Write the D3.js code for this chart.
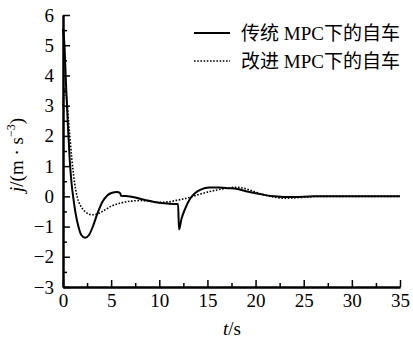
<!DOCTYPE html>
<html>
<head>
<meta charset="utf-8">
<script src="https://cdn.jsdelivr.net/npm/d3@7"></script>
<style>
  body { margin: 0; background: #fff; }
  .serif { font-family: "Liberation Serif", "Times New Roman", serif; }
  .legendText { font-family: "Liberation Serif", "Noto Sans CJK SC", serif; }
</style>
</head>
<body>
<div id="chart"></div>
<script>
// data
var seriesNames = ["传统 MPC下的自车", "改进 MPC下的自车"];

var tradT = [0, 0.15, 0.3, 0.5, 0.7, 0.9, 1.05, 1.3, 1.6, 1.9, 2.3, 2.7, 3.1, 3.6, 4.1, 4.6, 5.1, 5.6, 5.95, 6.02,
    6.5, 7.5, 8.5, 9.5, 10.5, 11.5, 11.95, 12.05, 12.3, 12.7, 13.2, 13.7, 14.3, 15.2, 16.2, 17.2, 18, 19, 20, 21, 22, 23, 24, 26, 35];
var tradJ = [5.55, 5.0, 3.8, 2.4, 1.2, 0.4, 0, -0.55, -1.0, -1.28, -1.37, -1.28, -1.0, -0.55, -0.18, 0.03, 0.12, 0.14, 0.1, 0.02,
    0.01, -0.04, -0.12, -0.19, -0.23, -0.25, -0.25, -1.1, -0.75, -0.4, -0.08, 0.1, 0.22, 0.29, 0.29, 0.27, 0.25, 0.17, 0.1, 0.04, 0.0, -0.02, -0.02, 0, 0];

var impT = [0, 0.15, 0.35, 0.6, 0.9, 1.2, 1.5, 1.9, 2.4, 3.0, 3.6, 4.3, 5, 6, 7, 8, 9, 10, 11, 12, 13, 14, 15, 16, 17, 18,
    19, 20, 21, 22, 23, 24, 25, 27, 35];
var impJ = [3.0, 3.55, 3.3, 2.4, 1.3, 0.45, -0.05, -0.35, -0.53, -0.61, -0.58, -0.46, -0.33, -0.22, -0.16, -0.14, -0.16, -0.2, -0.18, -0.12, -0.05, 0.05, 0.14, 0.21, 0.27, 0.3,
    0.25, 0.14, 0.04, -0.03, -0.06, -0.05, -0.03, 0, 0];

var xTicks = [0, 5, 10, 15, 20, 25, 30, 35];
var yTicks = [-3, -2, -1, 0, 1, 2, 3, 4, 5, 6];

var svgWidth = 413;
var svgHeight = 340;
var margin = {top: 15, right: 13, bottom: 53, left: 63};
var width = svgWidth - margin.left - margin.right;
var height = svgHeight - margin.top - margin.bottom;

var svg = d3.select("#chart")
    .append("svg")
    .attr("width", svgWidth)
    .attr("height", svgHeight);

var chartGroup = svg.append("g")
    .attr("transform", `translate(${margin.left}, ${margin.top})`);

var x = d3.scaleLinear().domain([0, 35]).range([0, width]);
var y = d3.scaleLinear().domain([-3, 6]).range([height, 0]);

// minor ticks
chartGroup.append("g")
    .attr("class", "axis")
    .attr("transform", `translate(0, ${height})`)
    .call(d3.axisBottom(x).tickValues(d3.range(2.5, 35, 5)).tickSizeInner(-4).tickSizeOuter(0).tickFormat(""));
chartGroup.append("g")
    .attr("class", "axis")
    .call(d3.axisLeft(y).tickValues(d3.range(-2.5, 6, 1)).tickSizeInner(-4).tickSizeOuter(0).tickFormat(""));

// major ticks
chartGroup.append("g")
    .attr("class", "axis")
    .attr("transform", `translate(0, ${height})`)
    .call(d3.axisBottom(x).tickValues(xTicks).tickSizeInner(-7).tickSizeOuter(0).tickPadding(7));
chartGroup.append("g")
    .attr("class", "axis")
    .call(d3.axisLeft(y).tickValues(yTicks).tickSizeInner(-7).tickSizeOuter(0).tickPadding(9));

svg.selectAll(".axis").attr("font-family", null).attr("font-size", null);
svg.selectAll(".axis path").attr("stroke", "#000").attr("stroke-width", 2);
svg.selectAll(".axis line").attr("stroke", "#000").attr("stroke-width", 1.5);
svg.selectAll(".axis text")
    .attr("class", "serif")
    .attr("fill", "#000")
    .style("font-size", "19px");

var line = d3.line()
    .x(d => x(d[0]))
    .y(d => y(d[1]))
    .curve(d3.curveMonotoneX);

var tradData = tradT.map((t, i) => [t, tradJ[i]]);
var impData = impT.map((t, i) => [t, impJ[i]]);

chartGroup.append("path")
    .datum(impData)
    .attr("d", line)
    .attr("fill", "none")
    .attr("stroke", "#000")
    .attr("stroke-width", 1.6)
    .attr("stroke-dasharray", "1.6,1.6");

chartGroup.append("path")
    .datum(tradData)
    .attr("d", line)
    .attr("fill", "none")
    .attr("stroke", "#000")
    .attr("stroke-width", 2);

// legend
var legend = svg.append("g");
[0, 1].forEach(function(i) {
    var ly = 33 + i * 28;
    legend.append("line")
        .attr("x1", 194).attr("x2", 230)
        .attr("y1", ly).attr("y2", ly)
        .attr("stroke", "#000")
        .attr("stroke-width", i == 0 ? 2 : 1.6)
        .attr("stroke-dasharray", i == 0 ? null : "1.6,1.6");
    legend.append("text")
        .attr("class", "legendText")
        .attr("x", 241)
        .attr("y", ly + 7)
        .style("font-size", "19px")
        .text(seriesNames[i]);
});

// axis labels
var xl = svg.append("text")
    .attr("class", "serif")
    .attr("x", 232)
    .attr("y", 335)
    .attr("text-anchor", "middle")
    .style("font-size", "19px");
xl.append("tspan").style("font-style", "italic").text("t");
xl.append("tspan").text("/s");

var yl = svg.append("text")
    .attr("class", "serif")
    .attr("transform", "translate(23, 155) rotate(-90)")
    .attr("text-anchor", "middle")
    .style("font-size", "19px");
yl.append("tspan").style("font-style", "italic").text("j");
yl.append("tspan").text("/(m · s");
yl.append("tspan").attr("dy", -8).style("font-size", "12px").text("−3");
yl.append("tspan").attr("dy", 8).text(")");
</script>
</body>
</html>
